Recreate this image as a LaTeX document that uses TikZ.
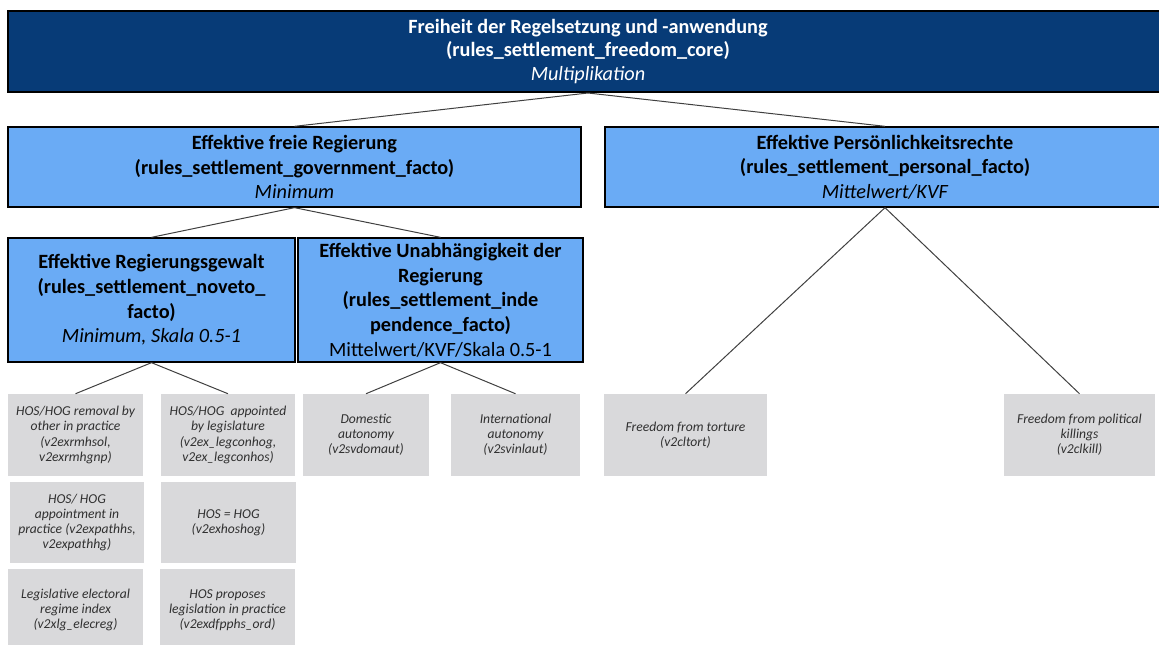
\documentclass[tikz,border=0pt]{standalone}
\usepackage{fontspec}
\setmainfont{Carlito}
\usepackage{xcolor}
\usetikzlibrary{positioning}
\definecolor{coreblue}{HTML}{073B77}
\definecolor{dimblue}{HTML}{6AABF5}
\definecolor{indgray}{HTML}{D9D9DB}
\definecolor{indtext}{HTML}{303030}
\definecolor{congray}{HTML}{404040}
\tikzset{
  core/.style = {draw=black, line width=1.5pt, fill=coreblue, text=white,
                 align=center, font=\fontsize{15.2}{17.8}\selectfont,
                 inner sep=0pt},
  dim/.style  = {draw=black, line width=1pt, fill=dimblue, text=black,
                 align=center, font=\fontsize{15.2}{18.5}\selectfont,
                 inner sep=0pt},
  ind/.style  = {fill=indgray, text=indtext, align=center,
                 font=\fontsize{10.2}{11.4}\selectfont\itshape, inner sep=0pt},
  con/.style  = {draw=congray, line width=0.75pt},
}
\begin{document}
\begin{tikzpicture}[x=0.75pt, y=-0.75pt]
  \useasboundingbox (0,0) rectangle (1159,645);
  \clip (0,0) rectangle (1159,645);
  % index
  \node[core, minimum width=870pt, minimum height=60.75pt] (core) at (588,51.5)
    {\textbf{Freiheit der Regelsetzung und -anwendung}\\
     \textbf{(rules\_settlement\_freedom\_core)}\\
     \textit{Multiplikation}};
  % dimensions
  \node[dim, minimum width=429.75pt, minimum height=60pt] (gov) at (294.5,167)
    {\textbf{Effektive freie Regierung}\\
     \textbf{(rules\_settlement\_government\_facto)}\\
     \textit{Minimum}};
  \node[dim, minimum width=420pt, minimum height=60pt] (pers) at (885,167)
    {\textbf{Effektive Persönlichkeitsrechte}\\
     \textbf{(rules\_settlement\_personal\_facto)}\\
     \textit{Mittelwert/KVF}};
  \node[dim, minimum width=215.25pt, minimum height=93pt] (noveto) at (151.5,300)
    {\textbf{Effektive Regierungsgewalt}\\
     \textbf{(rules\_settlement\_noveto\_}\\
     \textbf{facto)}\\
     \textit{Minimum, Skala 0.5-1}};
  \node[dim, minimum width=213.75pt, minimum height=93pt] (inde) at (440.5,300)
    {\textbf{Effektive Unabhängigkeit der}\\
     \textbf{Regierung}\\
     \textbf{(rules\_settlement\_inde}\\
     \textbf{pendence\_facto)}\\
     Mittelwert/KVF/Skala 0.5-1};
  % indicators
  \node[ind, minimum width=101.25pt, minimum height=61.5pt] (rmh) at (75.5,435)
    {HOS/HOG removal by\\other in practice\\(v2exrmhsol,\\v2exrmhgnp)};
  \node[ind, minimum width=100.5pt, minimum height=61.5pt] (leg) at (228,435)
    {HOS/HOG~ appointed\\by legislature\\(v2ex\_legconhog,\\v2ex\_legconhos)};
  \node[ind, minimum width=100.5pt, minimum height=60.75pt] (path) at (77,522.5)
    {HOS/ HOG\\appointment in\\practice (v2expathhs,\\v2expathhg)};
  \node[ind, minimum width=101.25pt, minimum height=60.75pt] (hog) at (228.5,522.5)
    {HOS = HOG\\(v2exhoshog)};
  \node[ind, minimum width=101.25pt, minimum height=61.5pt] (elec) at (75.5,610)
    {Legislative electoral\\regime index\\(v2xlg\_elecreg)};
  \node[ind, minimum width=101.25pt, minimum height=61.5pt] (dfp) at (227.5,610)
    {HOS proposes\\legislation in practice\\(v2exdfpphs\_ord)};
  \node[ind, minimum width=94.5pt, minimum height=61.5pt] (dom) at (366,435)
    {Domestic\\autonomy\\(v2svdomaut)};
  \node[ind, minimum width=96.75pt, minimum height=61.5pt] (intl) at (515.5,435)
    {International\\autonomy\\(v2svinlaut)};
  \node[ind, minimum width=122.25pt, minimum height=61.5pt] (tort) at (685.5,435)
    {Freedom from torture\\(v2cltort)};
  \node[ind, minimum width=113.25pt, minimum height=61.5pt] (kill) at (1079.5,435)
    {Freedom from political\\killings\\(v2clkill)};
  % connectors
  \draw[con] (core.south) -- (gov.north);
  \draw[con] (core.south) -- (pers.north);
  \draw[con] (gov.south) -- (noveto.north);
  \draw[con] (gov.south) -- (inde.north);
  \draw[con] (pers.south) -- (tort.north);
  \draw[con] (pers.south) -- (kill.north);
  \draw[con] (noveto.south) -- (rmh.north);
  \draw[con] (noveto.south) -- (leg.north);
  \draw[con] (inde.south) -- (dom.north);
  \draw[con] (inde.south) -- (intl.north);
\end{tikzpicture}
\end{document}
